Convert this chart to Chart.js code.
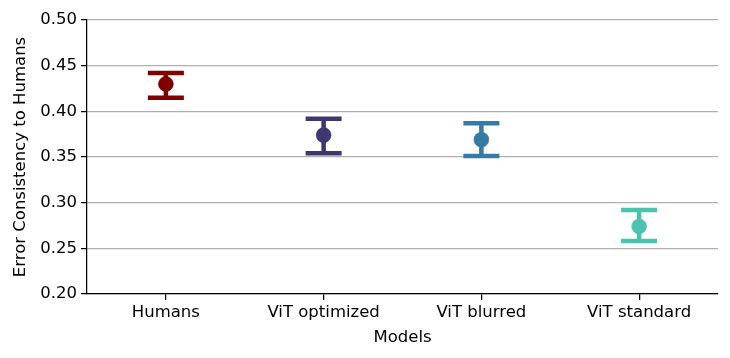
<!DOCTYPE html>
<html>
<head>
<meta charset="utf-8">
<script src="https://cdn.jsdelivr.net/npm/chart.js@4.4.0/dist/chart.umd.min.js"></script>
<style>
  html, body { margin: 0; padding: 0; background: #fff; }
  #wrap { width: 730px; height: 358px; }
</style>
</head>
<body>
<div id="wrap"><canvas id="chart"></canvas></div>
<script>
// error consistency per model, mean with lower/upper CI
var models = ["Humans", "ViT optimized", "ViT blurred", "ViT standard"];
var means  = [0.430, 0.374, 0.369, 0.274];
var lower  = [0.415, 0.354, 0.351, 0.258];
var upper  = [0.442, 0.392, 0.387, 0.292];
var yTicks = [0.20, 0.25, 0.30, 0.35, 0.40, 0.45, 0.50];
var colors = ["#800000", "#3f3770", "#367ba4", "#4cc3ae"];

var font = { family: "'DejaVu Sans', sans-serif", size: 16.5 };

// draws the vertical error bar with caps for each point
var errorBars = {
    id: 'errorBars',
    beforeDatasetsDraw: function(chart) {
        var ctx = chart.ctx;
        var x = chart.scales.x, y = chart.scales.y;
        ctx.save();
        ctx.lineCap = 'butt';
        for (var i = 0; i < models.length; i++) {
            var px = x.getPixelForValue(i);
            var top = y.getPixelForValue(upper[i]);
            var bot = y.getPixelForValue(lower[i]);
            ctx.strokeStyle = colors[i];
            ctx.lineWidth = 4.5;
            ctx.beginPath();
            ctx.moveTo(px, top); ctx.lineTo(px, bot);
            ctx.moveTo(px - 18, top); ctx.lineTo(px + 18, top);
            ctx.moveTo(px - 18, bot); ctx.lineTo(px + 18, bot);
            ctx.stroke();
        }
        ctx.restore();
    }
};

new Chart(document.getElementById('chart'), {
    type: 'line',
    data: {
        labels: models,
        datasets: [{
            data: means,
            showLine: false,
            pointRadius: 7.5,
            pointBorderWidth: 0.5,
            pointBackgroundColor: colors,
            pointBorderColor: colors
        }]
    },
    plugins: [errorBars],
    options: {
        responsive: true,
        maintainAspectRatio: false,
        animation: false,
        layout: { padding: { left: 0, top: 20, right: 12, bottom: 0 } },
        plugins: { legend: { display: false }, tooltip: { enabled: false } },
        scales: {
            x: {
                type: 'category',
                offset: true,
                afterFit: function(s) { s.height = 64; },
                grid: { drawOnChartArea: false, tickLength: 6, tickColor: '#000', lineWidth: 1.25 },
                border: { color: '#000', width: 1.25 },
                ticks: { color: '#000', font: font, padding: 3, maxRotation: 0 },
                title: { display: true, text: 'Models', color: '#000', font: font, padding: { top: 0, bottom: 10 } }
            },
            y: {
                min: 0.20,
                max: 0.50,
                afterFit: function(s) { s.width = 87; },
                afterBuildTicks: function(s) {
                    s.ticks = yTicks.map(function(v) { return { value: v }; });
                },
                grid: { color: '#b0b0b0', lineWidth: 1.25, tickLength: 6, tickColor: '#000' },
                border: { color: '#000', width: 1.25 },
                ticks: {
                    color: '#000', font: font, padding: 4,
                    callback: function(v) { return v.toFixed(2); }
                },
                title: { display: true, text: 'Error Consistency to Humans', color: '#000', font: font, padding: { top: 11, bottom: 0 } }
            }
        }
    }
});
</script>
</body>
</html>
